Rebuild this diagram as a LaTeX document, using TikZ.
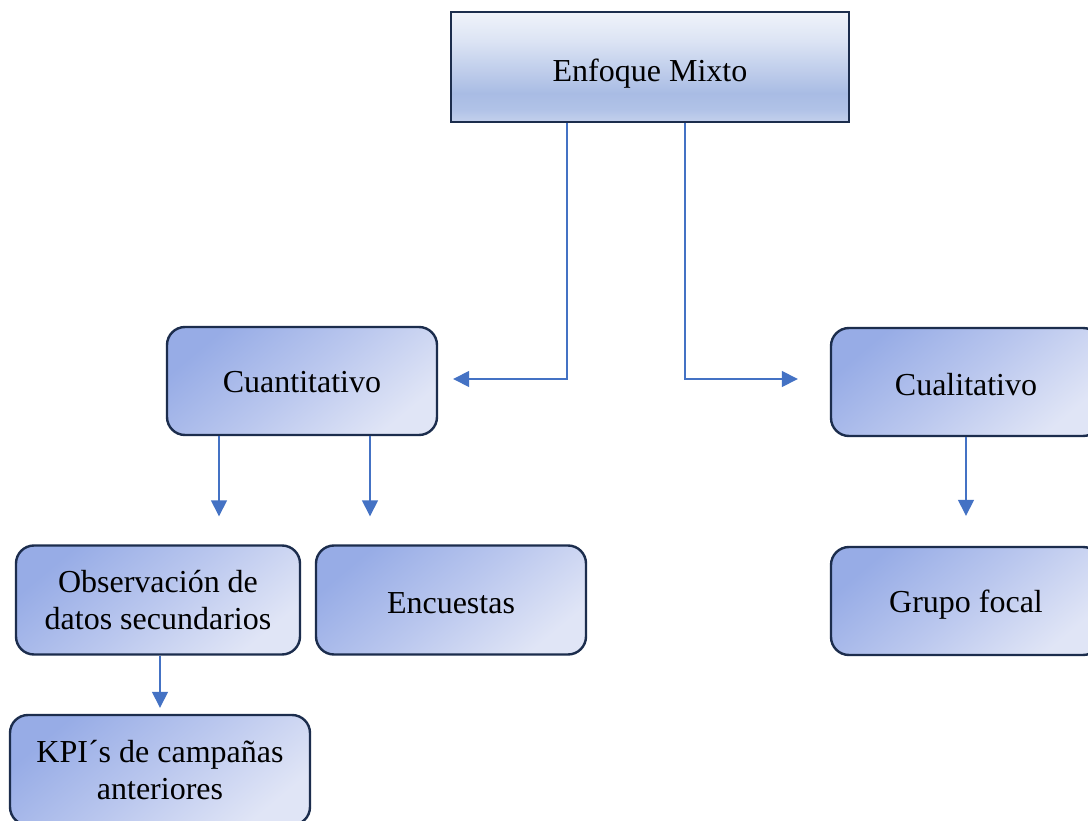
\documentclass[tikz,border=0pt]{standalone}
\usepackage{fontspec}
\setmainfont{Liberation Serif}
\usetikzlibrary{arrows.meta}
\definecolor{bordercol}{HTML}{1C2D4D}
\definecolor{linecol}{HTML}{4472C4}
\definecolor{boxdark}{HTML}{97ACE6}
\definecolor{boxmid}{HTML}{BAC7EE}
\definecolor{boxlight}{HTML}{E0E5F6}
\definecolor{eT}{HTML}{F0F3FA}
\definecolor{eT2}{HTML}{DCE4F4}
\definecolor{eM}{HTML}{A9BCE4}
\definecolor{eA}{HTML}{B0C2E7}
\definecolor{eB}{HTML}{C4D0EC}
\pgfdeclareverticalshading{enfshade}{100bp}{color(0bp)=(eB); color(25bp)=(eB); color(31bp)=(eA); color(38bp)=(eM); color(62bp)=(eT2); color(75bp)=(eT); color(100bp)=(eT)}
\newcommand{\lowertext}[2]{\raisebox{-#1}[\height][\depth]{#2}}
\tikzset{
  basebox/.style={draw=bordercol, line width=2.4pt, align=center, inner sep=0pt,
    font=\fontsize{32}{37}\selectfont},
  roundbox/.style={basebox, rounded corners=18pt,
    top color=boxdark, bottom color=boxlight, middle color=boxmid, shading angle=40},
  topbox/.style={basebox, line width=2.8pt, shading=enfshade},
  conn/.style={draw=linecol, line width=1.5pt, -{Triangle[width=16pt,length=16pt]}}
}
\begin{document}
\begin{tikzpicture}[x=1pt,y=-1pt]
\useasboundingbox (0,0) rectangle (1088,821);
\clip (0,0) rectangle (1088,821);
\fill[white] (0,0) rectangle (1088,821);

\node[topbox, minimum width=398pt, minimum height=110pt] (enf) at (650,67) {\lowertext{7pt}{Enfoque Mixto}};
\node[roundbox, minimum width=270pt, minimum height=108pt] (cuan) at (302,381) {\lowertext{1pt}{Cuantitativo}};
\node[roundbox, minimum width=270pt, minimum height=108pt] (cual) at (966,382) {\lowertext{3pt}{Cualitativo}};
\node[roundbox, minimum width=284pt, minimum height=109pt] (obs) at (158,600) {Observación de\\datos secundarios};
\node[roundbox, minimum width=270pt, minimum height=109pt] (enc) at (451,600) {\lowertext{3pt}{Encuestas}};
\node[roundbox, minimum width=270pt, minimum height=108pt] (foc) at (966,601) {\lowertext{4pt}{Grupo focal}};
\node[roundbox, minimum width=300pt, minimum height=110pt] (kpi) at (160,770) {KPI´s de campañas\\anteriores};

\draw[conn] ([xshift=-83pt]enf.south) |- ([xshift=15pt,yshift=2pt]cuan.east);
\draw[conn] ([xshift=35pt]enf.south) |- ([xshift=-32pt,yshift=3pt]cual.west);
\draw[conn, shorten >=28pt] ([xshift=-83pt]cuan.south) -- ([xshift=-83pt]cuan.south |- obs.north);
\draw[conn, shorten >=28pt] ([xshift=68pt]cuan.south) -- ([xshift=68pt]cuan.south |- enc.north);
\draw[conn, shorten >=30pt] (cual.south) -- (cual.south |- foc.north);
\draw[conn, shorten >=6pt] ([xshift=2pt]obs.south) -- ([xshift=2pt]obs.south |- kpi.north);
\end{tikzpicture}
\end{document}
